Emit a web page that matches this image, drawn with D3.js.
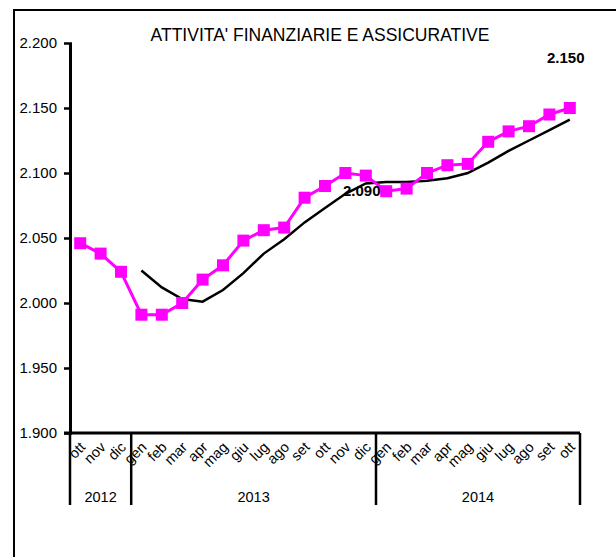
<!DOCTYPE html>
<html lang="it">
<head>
    <meta charset="UTF-8">
    <title>Attivita' finanziarie e assicurative</title>
    <style>
    body { margin: 0; background: #fff; }
    text { font-family: "Liberation Sans", Arial, sans-serif; fill: #000; }
    .line { fill: none; }
    </style>
</head>
<body>
    <svg width="616" height="557"></svg>
    <script src="https://d3js.org/d3.v7.min.js"></script>
    <script type="text/javascript">
        // categories (ott 2012 .. ott 2014)
        var months = ["ott", "nov", "dic",
                      "gen", "feb", "mar", "apr", "mag", "giu", "lug", "ago", "set", "ott", "nov", "dic",
                      "gen", "feb", "mar", "apr", "mag", "giu", "lug", "ago", "set", "ott"];
        var years = [{label: "2012", start: 0, end: 3},
                     {label: "2013", start: 3, end: 15},
                     {label: "2014", start: 15, end: 25}];
        // monthly values (thousands)
        var monthly = [2046, 2038, 2024, 1991, 1991, 2000, 2018, 2029, 2048, 2056, 2058, 2081, 2090,
                       2100, 2098, 2086, 2088, 2100, 2106, 2107, 2124, 2132, 2136, 2145, 2150];
        // trend, from gen 2013
        var trendStart = 3;
        var trend = [2025, 2012, 2003, 2001, 2010, 2023, 2038, 2049, 2062, 2073, 2084, 2092,
                     2093, 2093, 2094, 2096, 2100, 2108, 2117, 2125, 2133, 2141];
        var yTicks = [1900, 1950, 2000, 2050, 2100, 2150, 2200];
        var labels = [{i: 14, value: 2092, text: "2.090", pos: "below"},
                      {i: 24, value: 2150, text: "2.150", pos: "above"}];

        var svg = d3.select("svg");
        var loc = d3.formatLocale({decimal: ",", thousands: ".", grouping: [3], currency: ["", "€"]});
        var fmt = loc.format(",d");

        var plot = {left: 70, right: 580, top: 43, bottom: 433};

        var x = d3.scaleBand().domain(d3.range(months.length)).range([plot.left, plot.right]);
        var y = d3.scaleLinear().domain([1900, 2200]).range([plot.bottom, plot.top]);
        var cx = function(i) { return x(i) + x.bandwidth() / 2; };
        var edge = function(i) { return i === months.length ? plot.right : x(i); };

        // frame
        svg.append("rect")
          .attr("x", 14).attr("y", 10)
          .attr("width", 700).attr("height", 700)
          .attr("fill", "none").attr("stroke", "#000").attr("stroke-width", 2);

        svg.append("text")
          .attr("x", 320).attr("y", 41)
          .attr("text-anchor", "middle")
          .attr("font-size", "17.5px")
          .text("ATTIVITA' FINANZIARIE E ASSICURATIVE");

        // y axis
        var yAxis = svg.append("g")
          .attr("transform", "translate(" + plot.left + ",0)")
          .call(d3.axisLeft(y).tickValues(yTicks).tickFormat(fmt).tickSizeInner(5).tickSizeOuter(0).tickPadding(8));
        yAxis.select(".domain").attr("stroke-width", 3);
        yAxis.selectAll(".tick line").attr("stroke-width", 2.5).attr("x2", 2).attr("x1", -6);
        yAxis.selectAll(".tick text").attr("font-size", "15px").attr("font-family", "Liberation Sans, Arial, sans-serif");

        // x axis line
        svg.append("line")
          .attr("x1", plot.left - 6).attr("x2", plot.right)
          .attr("y1", y(1900)).attr("y2", y(1900))
          .attr("stroke", "#000").attr("stroke-width", 3);

        // year separators
        var bounds = [0, 3, 15, 25];
        svg.selectAll(".sep").data(bounds).enter().append("line")
          .attr("class", "sep")
          .attr("x1", edge).attr("x2", edge)
          .attr("y1", y(1900)).attr("y2", 505)
          .attr("stroke", "#000").attr("stroke-width", 2.5);

        // month labels
        svg.selectAll(".mlab").data(months).enter().append("text")
          .attr("class", "mlab")
          .attr("text-anchor", "end")
          .attr("font-size", "14.5px")
          .attr("transform", function(d, i) { return "translate(" + (cx(i) + 6) + "," + 448 + ") rotate(-45)"; })
          .text(function(d) { return d; });

        // year labels
        svg.selectAll(".ylab").data(years).enter().append("text")
          .attr("class", "ylab")
          .attr("text-anchor", "middle")
          .attr("font-size", "14.5px")
          .attr("x", function(d) { return (edge(d.start) + edge(d.end)) / 2; })
          .attr("y", 502)
          .text(function(d) { return d.label; });

        // trend line
        var lineT = d3.line()
          .x(function(d, i) { return cx(i + trendStart); })
          .y(function(d) { return y(d); });
        svg.append("path")
          .attr("class", "line")
          .attr("d", lineT(trend))
          .attr("stroke", "#000").attr("stroke-width", 2.5);

        // monthly series
        var lineM = d3.line()
          .x(function(d, i) { return cx(i); })
          .y(function(d) { return y(d); });
        svg.append("path")
          .attr("class", "line")
          .attr("d", lineM(monthly))
          .attr("stroke", "#ff00ff").attr("stroke-width", 3);

        var sq = 12;
        svg.selectAll(".pt").data(monthly).enter().append("rect")
          .attr("class", "pt")
          .attr("x", function(d, i) { return cx(i) - sq / 2; })
          .attr("y", function(d) { return y(d) - sq / 2; })
          .attr("width", sq).attr("height", sq)
          .attr("fill", "#ff00ff");

        // data labels
        svg.selectAll(".dlab").data(labels).enter().append("text")
          .attr("class", "dlab")
          .attr("text-anchor", "middle")
          .attr("font-size", "15px")
          .attr("font-weight", "bold")
          .attr("x", function(d) { return cx(d.i) - 4; })
          .attr("y", function(d) { return d.pos === "below" ? y(d.value) + 13 : y(d.value) - 45; })
          .text(function(d) { return d.text; });
    </script>
</body>
</html>
